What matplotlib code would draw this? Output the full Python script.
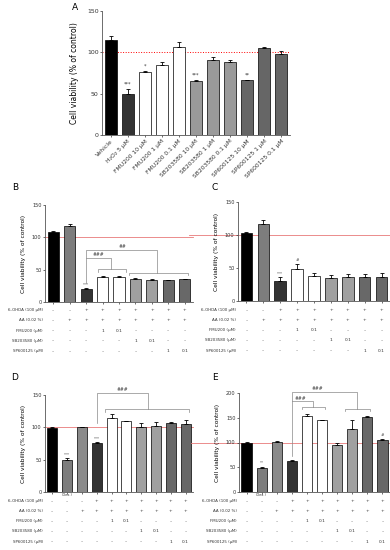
import matplotlib.pyplot as plt
import numpy as np

# ---- Panel A data ----
a_labels = ["Vehicle", "H₂O₂ 5 μM", "FMU200 10 μM", "FMU200 1 μM", "FMU200 0.1 μM",
            "SB203580 10 μM", "SB203580 1 μM", "SB203580 0.1 μM",
            "SP600125 10 μM", "SP600125 1 μM", "SP600125 0.1 μM"]
a_mean = [115, 50, 76, 85, 106, 65, 91, 88, 66, 105, 98]
a_err = [5, 6, 1, 3, 7, 1, 3, 3, 1, 2, 4]
a_sig = ["", "***", "*", "", "", "***", "", "", "**", "", ""]

# ---- Panels B / C data ----
b_mean = [109, 117, 20, 38, 38.5, 35.5, 34, 33.5, 35]
b_err = [1, 4, 1, 2, 2, 1, 2, 1, 1]
b_sig = ["", "", "***", "", "", "", "", "", ""]

c_mean = [103.5, 117, 31, 48.5, 38, 34.5, 36, 36.5, 36.5]
c_err = [1.5, 6, 5, 7, 4.5, 4.5, 5, 5, 6]
c_sig = ["", "", "***", "#", "", "", "", "", ""]

# ---- Panels D / E data ----
d_mean = [99, 50, 100, 76, 114.5, 109.5, 100.5, 101.5, 106, 105.5]
d_err = [1, 2.5, 1, 1.5, 6, 1, 6, 6, 1.5, 6.5]
d_sig = ["", "***", "", "***", "", "", "", "", "", ""]

e_mean = [99, 49, 101.5, 62.5, 153, 145, 95.5, 127, 152.5, 105.5]
e_err = [3, 2, 1, 3, 4, 1, 4, 18, 1.5, 1.5]
e_sig = ["", "**", "", "", "", "", "", "", "", "#"]

# ---- treatment tables ----
row_labels = ["6-OHDA (100 μM)", "AA (0.02 %)", "FMU200 (μM)", "SB203580 (μM)", "SP600125 (μM)"]
bc_ohda = ["–", "–", "+", "+", "+", "+", "+", "+", "+"]
bc_aa = ["–", "+", "+", "+", "+", "+", "+", "+", "+"]
bc_fmu = ["–", "–", "–", "1", "0.1", "–", "–", "–", "–"]
bc_sb = ["–", "–", "–", "–", "–", "1", "0.1", "–", "–"]
bc_sp = ["–", "–", "–", "–", "–", "–", "–", "1", "0.1"]

de_ohda = ["–", "–", "–", "+", "+", "+", "+", "+", "+", "+"]
de_aa = ["–", "–", "+", "+", "+", "+", "+", "+", "+", "+"]
de_fmu = ["–", "–", "–", "–", "1", "0.1", "–", "–", "–", "–"]
de_sb = ["–", "–", "–", "–", "–", "–", "1", "0.1", "–", "–"]
de_sp = ["–", "–", "–", "–", "–", "–", "–", "–", "1", "0.1"]

a_colors = ["black", "#333333", "white", "white", "white",
            "#9a9a9a", "#9a9a9a", "#9a9a9a", "#666666", "#666666", "#666666"]
bc_colors = ["black", "#7d7d7d", "#333333", "white", "white",
             "#a0a0a0", "#a0a0a0", "#686868", "#686868"]
de_colors = ["black", "#7d7d7d", "#8a8a8a", "#333333", "white", "white",
             "#a0a0a0", "#a0a0a0", "#686868", "#686868"]

W, H = 390, 550
fig = plt.figure(figsize=(W / 100, H / 100), dpi=100)


def add_axes(left, top, right, bottom):
    return fig.add_axes([left / W, 1 - bottom / H, (right - left) / W, (bottom - top) / H])


def draw_bars(ax, means, errs, colors, sig, ymax, yticks, fs, width=0.68):
    x = np.arange(len(means))
    ax.bar(x, means, width=width, color=colors, edgecolor="black", linewidth=0.5, zorder=2)
    ax.errorbar(x, means, yerr=[np.zeros(len(errs)), errs], fmt="none", ecolor="black",
                elinewidth=0.6, capsize=1.6, capthick=0.6, zorder=3)
    for xi, m, e, s in zip(x, means, errs, sig):
        if s:
            ax.text(xi, m + e + ymax * 0.02, s, ha="center", va="bottom", fontsize=fs * 0.8,
                    color="#333333")
    ax.set_xlim(-0.5, len(means) - 0.5)
    ax.set_ylim(0, ymax)
    ax.set_yticks(yticks)
    ax.tick_params(axis="both", labelsize=fs, length=1.5, width=0.5, pad=1, colors="#333333")
    for side in ["top", "right"]:
        ax.spines[side].set_visible(False)
    for side in ["left", "bottom"]:
        ax.spines[side].set_linewidth(0.6)
        ax.spines[side].set_color("#555555")
    return x


def draw_table(ax, columns, first=6.0, step=7.3, fs=2.9):
    for r, (lab, col) in enumerate(zip(row_labels, columns)):
        dy = -(first + r * step)
        ax.annotate(lab, xy=(0, 0), xycoords="axes fraction", xytext=(-1.5, dy),
                    textcoords="offset points", ha="right", va="center", fontsize=fs,
                    color="#333333", annotation_clip=False)
        for i, t in enumerate(col):
            ax.annotate(t, xy=(i, 0), xycoords=("data", "axes fraction"), xytext=(0, dy),
                        textcoords="offset points", ha="center", va="center", fontsize=fs + 0.3,
                        color="#333333", annotation_clip=False)


def bracket(ax, x0, y_low, y_top, x1, y_group, g0, g1, leg, label, lx, ly, fs=3.3):
    kw = dict(color="#888888", lw=0.5, clip_on=False, zorder=4)
    ax.plot([x0, x0, x1, x1], [y_low, y_top, y_top, y_group], **kw)
    ax.plot([g0, g0, g1, g1], [y_group - leg, y_group, y_group, y_group - leg], **kw)
    ax.text(lx, ly, label, ha="center", va="bottom", fontsize=fs, color="#333333", clip_on=False)


def red_line(ax, xmin=0, xmax=1):
    ax.axhline(100, xmin=xmin, xmax=xmax, color="#e87a7a", lw=0.6, clip_on=False, zorder=1)


# ---- Panel A ----
axA = add_axes(102, 11, 290, 135)
xa = draw_bars(axA, a_mean, a_err, a_colors, a_sig, 150, [0, 50, 100, 150], 4.5, width=0.7)
axA.axhline(100, color="red", lw=0.7, ls=":", zorder=1)
axA.set_xticks(xa)
axA.set_xticklabels(a_labels, rotation=45, ha="right", rotation_mode="anchor", fontsize=4.3)
axA.set_ylabel("Cell viability (% of control)", fontsize=5.5, labelpad=6)
fig.text(75 / W, 1 - 8 / H, "A", fontsize=6.5, ha="center", va="center")

# ---- Panel B ----
axB = add_axes(45, 205, 193, 302)
draw_bars(axB, b_mean, b_err, bc_colors, b_sig, 150, [0, 50, 100, 150], 3.6)
red_line(axB, 0, 1.0)
axB.set_xticks(range(len(b_mean)))
axB.set_xticklabels([])
axB.set_ylabel("Cell viability (% of control)", fontsize=4.2, labelpad=4)
draw_table(axB, [bc_ohda, bc_aa, bc_fmu, bc_sb, bc_sp])
bracket(axB, 2, 29, 68, 3.5, 51, 2.7, 4.4, 4, "###", 2.75, 69)
bracket(axB, 2, 68, 81, 6.3, 45, 4.6, 8.2, 4, "##", 4.2, 82)
fig.text(15 / W, 1 - 188 / H, "B", fontsize=6.5, ha="center", va="center")

# ---- Panel C ----
axC = add_axes(238, 202, 390, 301)
draw_bars(axC, c_mean, c_err, bc_colors, c_sig, 150, [0, 50, 100, 150], 3.6)
red_line(axC, -0.32, 1)
axC.set_xticks(range(len(c_mean)))
axC.set_xticklabels([])
axC.set_ylabel("Cell viability (% of control)", fontsize=4.2, labelpad=4)
draw_table(axC, [bc_ohda, bc_aa, bc_fmu, bc_sb, bc_sp], first=6.5)
fig.text(215 / W, 1 - 188 / H, "C", fontsize=6.5, ha="center", va="center")

# ---- Panel D ----
axD = add_axes(45, 395, 193, 492)
draw_bars(axD, d_mean, d_err, de_colors, d_sig, 150, [0, 50, 100, 150], 3.6)
red_line(axD, 0, 1.0)
axD.set_xticks(range(len(d_mean)))
axD.set_xticklabels([])
axD.set_ylabel("Cell viability (% of control)", fontsize=4.2, labelpad=4)
draw_table(axD, [de_ohda, de_aa, de_fmu, de_sb, de_sp], first=6.5)
axD.annotate("(Dex.)", xy=(1, 0), xycoords=("data", "axes fraction"), xytext=(0, -2.5),
             textcoords="offset points", ha="center", va="center", fontsize=2.6,
             color="#333333", annotation_clip=False)
bracket(axD, 3, 106, 153, 6.45, 128, 3.55, 9.2, 4, "###", 4.7, 154)
fig.text(15 / W, 1 - 377 / H, "D", fontsize=6.5, ha="center", va="center")

# ---- Panel E ----
axE = add_axes(239, 393, 390, 492)
draw_bars(axE, e_mean, e_err, de_colors, e_sig, 200, [0, 50, 100, 150, 200], 3.6)
red_line(axE, -0.32, 1)
axE.set_xticks(range(len(e_mean)))
axE.set_xticklabels([])
axE.set_ylabel("Cell viability (% of control)", fontsize=4.2, labelpad=4)
draw_table(axE, [de_ohda, de_aa, de_fmu, de_sb, de_sp], first=6.5)
axE.annotate("(Dex.)", xy=(1, 0), xycoords=("data", "axes fraction"), xytext=(0, -2.5),
             textcoords="offset points", ha="center", va="center", fontsize=2.6,
             color="#333333", annotation_clip=False)
bracket(axE, 3, 72, 203, 7.3, 168, 6.5, 8.2, 5, "###", 4.7, 204)
bracket(axE, 3, 183, 183, 4.4, 172, 3.65, 5.2, 5, "###", 3.55, 184)
fig.text(215 / W, 1 - 377 / H, "E", fontsize=6.5, ha="center", va="center")

fig.savefig("out.png", dpi=100)
